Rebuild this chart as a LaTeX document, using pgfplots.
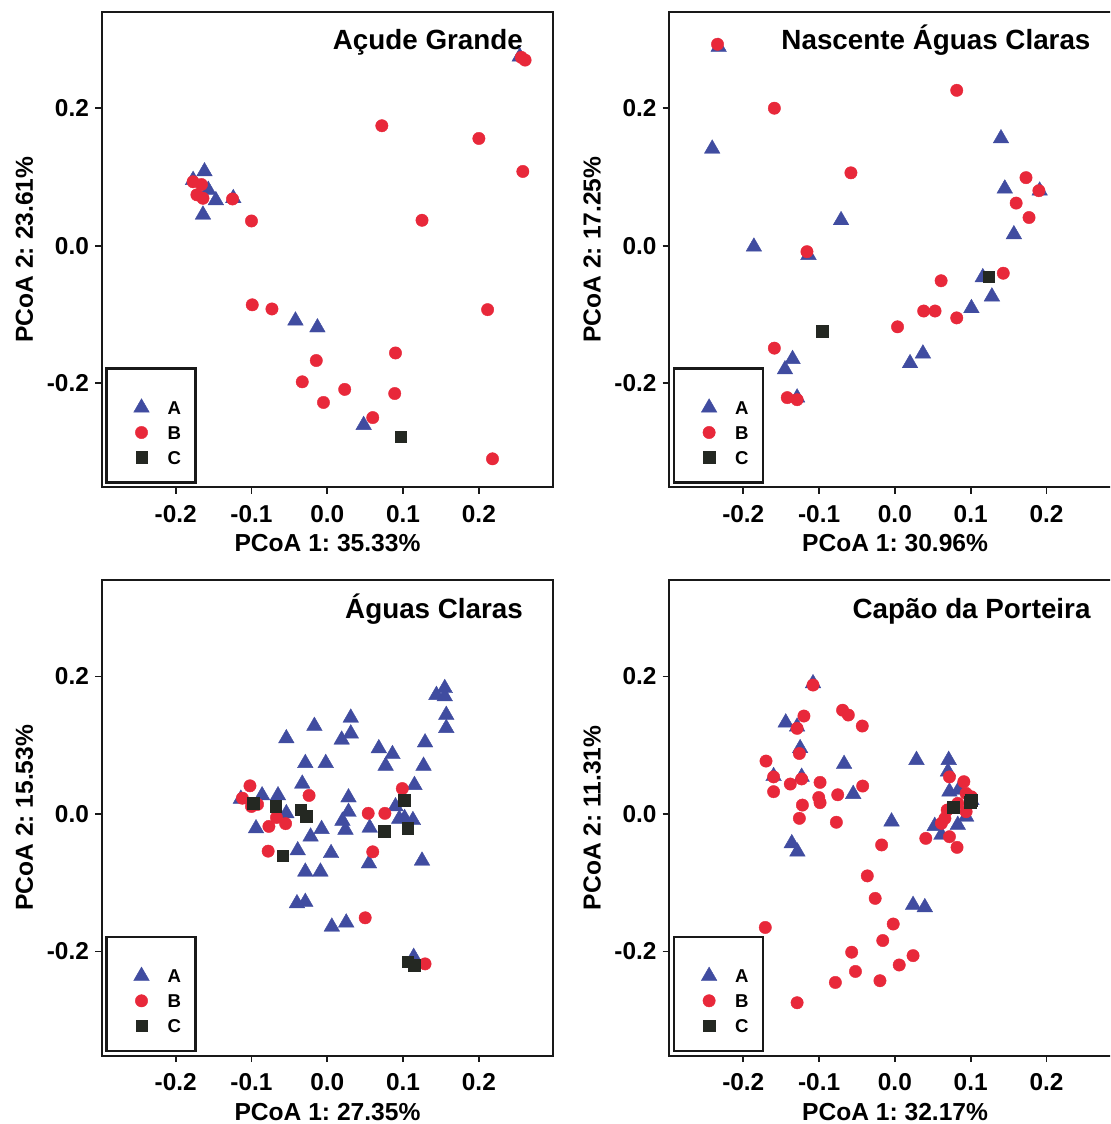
\documentclass[border=0pt]{standalone}
\usepackage{fontspec}
\setmainfont{Liberation Sans}
\usepackage{pgfplots}
\pgfplotsset{compat=1.18}
\frenchspacing

\definecolor{grpA}{RGB}{64,76,160}
\definecolor{grpB}{RGB}{232,40,58}
\definecolor{grpC}{RGB}{36,40,34}

% 1 px of the reference = 0.5pt
\pgfplotsset{
  pcoa/.style={
    scale only axis, width=225.8pt, height=237.8pt, clip=false,
    xmin=-0.2976, xmax=0.2982, ymin=-0.3514, ymax=0.3404,
    xtick={-0.2,-0.1,0,0.1,0.2}, xticklabels={-0.2,-0.1,0.0,0.1,0.2},
    ytick={-0.2,0,0.2}, yticklabels={-0.2,0.0,0.2},
    tick pos=left, tick align=outside, major tick length=3.3pt,
    axis line style={line width=0.9pt, black!90},
    tick style={line width=0.9pt, black!90},
    tick label style={font=\fontsize{12.2}{14}\selectfont\bfseries, inner sep=0pt},
    xticklabel style={anchor=base, yshift=-14.3pt},
    yticklabel style={anchor=east, xshift=-2.9pt},
    label style={font=\fontsize{12.3}{14}\selectfont\bfseries, inner sep=0pt, text depth=0pt},
    xlabel style={at={([yshift=-32.2pt]axis description cs:0.5,0)}, anchor=base},
    ylabel style={at={([xshift=-34.35pt]axis description cs:0,0.5)}, anchor=base},
    legend cell align=left,
    legend image code/.code={\draw[##1] plot coordinates {(0pt,0pt)};},
    legend style={draw=none, fill=none, inner sep=0pt,
      at={(0.070,0.1871)}, anchor=north west,
      row sep=5.7pt, column sep=9.1pt,
      nodes={inner sep=0pt, font=\fontsize{9.3}{11}\selectfont\bfseries,
        text height=6.7pt, text depth=0pt}},
  },
  grpA/.style={only marks, mark=triangle*, mark size=4.5pt, color=grpA, mark options={line width=0.2pt}},
  grpB/.style={only marks, mark=*, mark size=3.1pt, color=grpB, mark options={line width=0.2pt}},
  grpC/.style={only marks, mark=square*, mark size=2.9pt, color=grpC, mark options={line width=0.2pt}},
}
\newcommand{\paneltitle}[1]{%
  \node[anchor=base east, inner sep=0pt, font=\fontsize{13.9}{16}\selectfont\bfseries]
    at (rel axis cs:0.9336,0.9195) {#1};
  \draw[line width=1.3pt, black!90] (rel axis cs:0.0102,0.0097) rectangle (rel axis cs:0.2075,0.2496);
}

\begin{document}
\begin{tikzpicture}
\path[use as bounding box] (0,0) rectangle (555pt,562pt);
\clip (0,0) rectangle (555pt,562pt);

% Açude Grande
\begin{axis}[pcoa, at={(50.85pt,318.35pt)}, anchor=south west,
  xlabel={PCoA 1: 35.33\%}, ylabel={PCoA 2: 23.61\%}]
\addplot[grpA] coordinates {(0.254,0.275) (-0.162,0.108) (-0.177,0.0955) (-0.157,0.081) (-0.147,0.066)
  (-0.124,0.069) (-0.164,0.045) (-0.042,-0.109) (-0.013,-0.119) (0.048,-0.261)};
\addlegendentry{A}
\addplot[grpB] coordinates {(0.256,0.274) (0.261,0.270) (0.072,0.1745) (0.200,0.156) (0.258,0.108)
  (-0.177,0.093) (-0.166,0.089) (-0.172,0.074) (-0.164,0.069) (-0.125,0.068) (-0.100,0.036)
  (0.125,0.037) (-0.099,-0.086) (-0.073,-0.092) (0.2115,-0.093) (0.090,-0.156) (-0.0145,-0.167)
  (-0.033,-0.198) (0.023,-0.209) (0.089,-0.215) (-0.005,-0.228) (0.060,-0.250) (0.218,-0.310)};
\addlegendentry{B}
\addplot[grpC] coordinates {(0.097,-0.278)};
\addlegendentry{C}
\paneltitle{Açude Grande}
\end{axis}

% Nascente Águas Claras
\begin{axis}[pcoa, at={(334.65pt,318.35pt)}, anchor=south west,
  xlabel={PCoA 1: 30.96\%}, ylabel={PCoA 2: 17.25\%}]
\addplot[grpA] coordinates {(-0.2325,0.289) (-0.241,0.141) (-0.186,-0.0015) (-0.114,-0.0136)
  (-0.071,0.037) (-0.145,-0.180) (-0.135,-0.165) (-0.129,-0.221) (0.020,-0.171) (0.037,-0.157)
  (0.101,-0.091) (0.116,-0.046) (0.128,-0.074) (0.140,0.156) (0.145,0.083) (0.157,0.0165) (0.191,0.080)};
\addlegendentry{A}
\addplot[grpB] coordinates {(-0.234,0.293) (-0.159,0.200) (-0.058,0.106) (0.0816,0.226) (-0.116,-0.0087)
  (-0.159,-0.149) (-0.142,-0.221) (-0.129,-0.224) (0.0035,-0.118) (0.038,-0.095) (0.053,-0.095)
  (0.061,-0.051) (0.0816,-0.105) (0.143,-0.040) (0.173,0.099) (0.190,0.080) (0.160,0.062) (0.177,0.041)};
\addlegendentry{B}
\addplot[grpC] coordinates {(-0.0956,-0.124) (0.124,-0.045)};
\addlegendentry{C}
\paneltitle{Nascente Águas Claras}
\end{axis}

% Águas Claras
\begin{axis}[pcoa, at={(50.85pt,34.2pt)}, anchor=south west,
  xlabel={PCoA 1: 27.35\%}, ylabel={PCoA 2: 15.53\%}]
\addplot[grpA] coordinates {(0.155,0.183) (0.144,0.173) (0.155,0.171) (0.157,0.144) (0.157,0.125)
  (0.031,0.140) (0.031,0.117) (0.019,0.108) (-0.017,0.128) (-0.054,0.110)
  (0.129,0.104) (0.068,0.0955) (0.086,0.087) (0.077,0.070) (0.127,0.070)
  (-0.029,0.074) (-0.002,0.074) (-0.033,0.044) (0.115,0.042) (0.028,0.024)
  (-0.065,0.027) (-0.086,0.027) (-0.114,0.022) (-0.054,0.001) (0.028,0.003)
  (0.020,-0.010) (0.024,-0.023) (0.056,-0.020) (0.090,0.011) (0.095,-0.007)
  (0.102,-0.006) (0.113,-0.009) (-0.094,-0.021) (-0.0075,-0.022) (-0.022,-0.033)
  (-0.039,-0.053) (0.005,-0.057) (0.055,-0.072) (0.125,-0.068) (-0.029,-0.084)
  (-0.009,-0.084) (-0.040,-0.130) (-0.029,-0.128) (0.006,-0.164) (0.025,-0.158) (0.114,-0.208)};
\addlegendentry{A}
\addplot[grpB] coordinates {(-0.102,0.041) (-0.112,0.023) (-0.100,0.011) (-0.092,0.014) (-0.024,0.027)
  (-0.067,-0.005) (-0.077,-0.018) (-0.055,-0.014) (-0.078,-0.054) (0.054,0.001) (0.076,0.001)
  (0.099,0.037) (0.060,-0.055) (0.050,-0.151) (0.129,-0.218)};
\addlegendentry{B}
\addplot[grpC] coordinates {(-0.098,0.0156) (-0.068,0.011) (-0.035,0.006) (-0.028,-0.003) (0.075,-0.0247)
  (0.106,-0.021) (0.1016,0.020) (-0.059,-0.0606) (0.106,-0.215) (0.115,-0.220)};
\addlegendentry{C}
\paneltitle{Águas Claras}
\end{axis}

% Capão da Porteira
\begin{axis}[pcoa, at={(334.65pt,34.2pt)}, anchor=south west,
  xlabel={PCoA 1: 32.17\%}, ylabel={PCoA 2: 11.31\%}]
\addplot[grpA] coordinates {(-0.108,0.190) (-0.144,0.133) (-0.129,0.127) (-0.125,0.0956) (-0.160,0.055)
  (-0.123,0.054) (-0.067,0.0727) (-0.055,0.029) (-0.136,-0.0427) (-0.1286,-0.0548) (-0.0044,-0.011)
  (0.0285,0.0785) (0.071,0.0785) (0.070,0.0616) (0.072,0.0325) (0.084,0.035) (0.101,0.020)
  (0.094,-0.004) (0.0526,-0.0175) (0.0614,-0.0305) (0.083,-0.016) (0.024,-0.1324) (0.0395,-0.1357)};
\addlegendentry{A}
\addplot[grpB] coordinates {(-0.108,0.1876) (-0.120,0.1425) (-0.129,0.1246) (-0.069,0.151) (-0.0614,0.144)
  (-0.043,0.128) (-0.126,0.088) (-0.170,0.077) (-0.160,0.054) (-0.138,0.0436) (-0.123,0.051)
  (-0.0987,0.046) (-0.160,0.0325) (-0.1004,0.024) (-0.0987,0.0165) (-0.0754,0.028) (-0.0425,0.0407)
  (-0.122,0.013) (-0.126,-0.0063) (-0.0772,-0.012) (-0.0175,-0.045) (-0.0364,-0.090) (-0.026,-0.1227)
  (-0.171,-0.165) (-0.0022,-0.160) (-0.016,-0.184) (-0.057,-0.201) (0.024,-0.206) (0.0057,-0.2196)
  (-0.052,-0.229) (-0.0785,-0.245) (-0.0197,-0.2425) (-0.129,-0.2745)
  (0.072,0.054) (0.091,0.047) (0.094,0.030) (0.101,0.025) (0.083,0.0155) (0.094,0.0034)
  (0.069,0.0058) (0.066,-0.0063) (0.0614,-0.0136) (0.072,-0.033) (0.082,-0.0485) (0.0408,-0.0354)};
\addlegendentry{B}
\addplot[grpC] coordinates {(0.077,0.010) (0.099,0.017) (0.101,0.020)};
\addlegendentry{C}
\paneltitle{Capão da Porteira}
\end{axis}
\end{tikzpicture}
\end{document}
